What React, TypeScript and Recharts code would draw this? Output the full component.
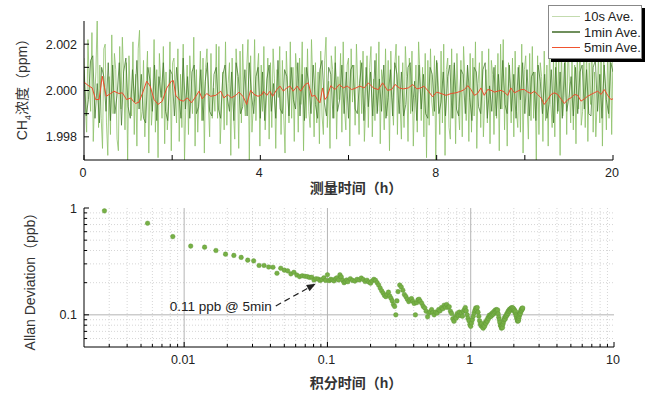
import React from "react";
import {
  LineChart,
  Line,
  ScatterChart,
  Scatter,
  XAxis,
  YAxis,
  ReferenceLine,
} from "recharts";

const FONT = '"Liberation Sans", Arial, sans-serif';
const CJK = '"Liberation Sans", "Noto Sans CJK SC", sans-serif';
const INK = "#222";

// ---- top panel: CH4 time series ----
const hourTicks = [0, 3.333, 6.667, 10, 13.333, 16.667, 20];
const hourTickLabels = ["0", "", "4", "", "8", "", "20"];
const ppmTicks = [1.998, 1.999, 2.0, 2.001, 2.002];
const ppmTickLabels = ["1.998", "", "2.000", "", "2.002"];

const STEP_10S = 0.05; // h between plotted 10s-average samples
const ch4_10s = [
  2.0014, 1.9994, 1.9982, 2.0022, 2.0003, 1.9991, 2.0025, 1.9978, 1.9996, 2.0008, 2.0032, 1.9984, 2.0011, 1.9988, 1.9975, 2.0018, 2.002, 1.9986, 1.9972, 2.0006,
  1.9981, 2.0024, 1.999, 2.0016, 2.0009, 1.9979, 1.9974, 2.0019, 1.9992, 2.0023, 2.0005, 1.9983, 2.0012, 1.997, 2.0015, 1.9997, 1.9989, 2.0021, 1.9981, 2.0007,
  1.9976, 2.0018, 2.0026, 1.9987, 1.9991, 2.0013, 1.998, 2.0002, 2.0017, 1.9973, 2.001, 1.9985, 1.9995, 2.0022, 1.9982, 2.0009, 1.9971, 2.0016, 2.0004, 1.9988,
  2.0019, 1.9977, 2.0008, 1.9983, 1.9993, 2.0021, 1.9974, 2.0012, 2.0014, 1.9997, 1.9986, 2.0018, 1.9978, 2.0007, 1.9984, 2.002, 1.997, 1.9994, 2.0011, 1.9981,
  2.0015, 2.0004, 1.999, 2.0023, 1.9976, 2.0009, 1.9982, 1.9998, 2.0017, 1.9987, 2.0014, 1.9973, 2.001, 2.0018, 1.9995, 1.998, 2.0016, 1.9988, 2.0001, 1.9991,
  2.002, 1.9988, 2.0019, 1.9977, 1.9992, 2.0008, 1.9983, 2.0021, 1.9985, 2.0003, 2.0012, 1.9972, 2.0014, 1.9991, 1.9979, 2.0018, 2.0006, 1.9975, 2.0017, 1.9986,
  2.002, 1.9996, 1.9989, 2.0009, 2.0022, 1.997, 2.0015, 1.9982, 1.9993, 2.0022, 1.9987, 2.0008, 2.0016, 1.9976, 2.0011, 1.9991, 2.0019, 1.9983, 1.9998, 2.0014,
  1.9979, 2.0012, 1.9984, 2.0018, 2.0005, 1.9975, 2.0009, 1.9997, 2.0019, 1.9981, 2.0013, 1.999, 1.9973, 2.0017, 2.0002, 1.9986, 2.0021, 1.9988, 2.001, 1.9978,
  2.0016, 2.0007, 1.9982, 2.0014, 1.9994, 2.0021, 1.9974, 2.001, 1.9988, 2.0018, 1.9991, 1.9984, 2.0022, 2.0003, 1.998, 2.0012, 1.9986, 2.0008, 1.9977, 2.0017,
  1.9989, 1.9981, 2.0013, 2.0023, 1.9984, 2.0004, 1.9975, 2.0015, 2.0009, 1.9988, 2.0019, 1.9979, 2.0006, 1.9996, 2.0016, 1.9982, 2.0021, 1.9992, 1.9983, 2.0011,
  2.0014, 1.9976, 2.0018, 1.9995, 2.0011, 1.9985, 2.002, 2.0002, 1.9981, 2.0013, 1.999, 2.0017, 1.9978, 1.9993, 2.0015, 1.9984, 2.001, 2.0019, 1.998, 2.0005,
  1.9987, 2.0016, 1.9991, 2.0021, 1.9977, 2.0009, 2.0004, 1.9983, 2.0018, 1.9989, 2.0013, 1.9974, 2.0017, 1.9997, 1.9985, 2.0011, 2.002, 1.9981, 2.0015, 1.9994,
  1.9979, 2.0012, 1.9984, 2.0019, 2.0006, 1.9978, 2.0014, 1.999, 2.0017, 1.9976, 1.9997, 2.0011, 1.9982, 2.0021, 2.0008, 1.9987, 2.001, 1.998, 2.0016, 1.9971,
  2.0013, 1.9985, 2.0018, 1.9995, 1.9989, 2.0015, 1.997, 2.0012, 2.0002, 1.9981, 2.0017, 1.9986, 2.002, 1.9972, 2.0009, 2.0014, 1.9984, 1.9979, 2.0018, 1.9988,
  2.0011, 1.9977, 2.0016, 1.9993, 1.9983, 2.0013, 1.998, 2.0019, 2.0005, 1.9987, 2.001, 1.9978, 2.0016, 1.9982, 2.0014, 1.9989, 2.0021, 1.9975, 2.0003, 2.0012,
  1.9984, 2.0017, 1.998, 1.9996, 2.0009, 1.9986, 2.0018, 1.9977, 2.0013, 2.0007, 1.9981, 2.0011, 1.9988, 2.0016, 1.9974, 2.002, 1.9992, 2.0022, 1.9983, 2.001,
  1.9976, 2.0012, 2.0003, 1.9986, 2.0014, 1.998, 2.0017, 1.9991, 1.9984, 2.0011, 1.9982, 2.002, 1.9973, 2.0009, 2.0015, 1.9995, 1.9979, 2.0016, 1.9987, 2.0019,
  1.9988, 2.0008, 1.997, 2.0015, 1.9981, 2.0012, 2.0006, 1.9978, 2.0017, 1.9987, 2.0011, 1.9976, 2.0021, 1.9994, 1.9984, 2.0014, 1.998, 2.0019, 1.999, 2.0013,
  1.9972, 2.0018, 1.9989, 1.9997, 2.0016, 1.9981, 2.0022, 2.0004, 1.9986, 2.0013, 1.9983, 2.0011, 1.9977, 2.0017, 1.9992, 2.002, 1.9985, 1.9991, 2.0014, 1.9984,
  2.0019, 1.9978, 2.0012, 1.9994, 2.0023, 1.9982, 2.0008, 1.998, 1.9995, 2.0016, 1.9986, 2.0021, 1.9976, 2.0013, 2.0003, 1.9983, 2.0018, 1.9988, 2.0022, 1.9981,
  2.0017,
];

const STEP_1MIN = 1 / 12; // h between plotted 1min-average samples
const ch4_1min = [
  2.0009, 1.9989, 1.9996, 2.0013, 2.0015, 1.9988, 2.0003, 1.9986, 2.001, 2.0006, 1.9991, 2.0012,
  1.9987, 2.0011, 1.999, 1.9998, 2.0012, 1.9985, 2.0008, 2.0014, 1.9993, 1.9988, 2.0009, 1.9995,
  2.0013, 1.9992, 2.0007, 1.9988, 1.9986, 2.001, 2.0004, 1.9991, 2.0011, 1.9987, 2.0006, 1.9997,
  2.0012, 1.9991, 1.9987, 2.0009, 2.0007, 1.9989, 2.001, 1.9998, 1.9988, 2.0014, 1.9992, 2.0006,
  1.9988, 2.0008, 2.0011, 1.999, 1.9993, 2.0009, 1.9987, 2.0004, 2.0012, 1.9991, 1.9989, 2.0007,
  2.001, 1.9992, 1.9988, 2.0007, 2.0011, 1.9997, 1.9991, 2.0008, 1.9987, 2.0012, 2.0006, 1.999,
  1.9993, 2.0009, 1.9989, 2.0012, 1.9998, 1.999, 2.0006, 2.001, 1.9988, 2.0008, 1.9987, 2.0005,
  2.0011, 1.9991, 2.0003, 1.9988, 2.0013, 1.9992, 1.999, 2.0009, 2.0006, 1.9989, 2.001, 1.9996,
  1.9992, 2.0012, 1.9989, 2.0007, 1.9987, 2.001, 2.0002, 1.999, 2.0011, 1.9994, 1.9988, 2.0009,
  2.0013, 1.9995, 1.9989, 2.001, 2.0007, 1.9988, 2.0012, 1.9991, 1.9996, 2.0011, 1.999, 2.0008,
  1.9988, 2.0009, 2.0011, 1.9992, 1.999, 2.0003, 2.0012, 1.9987, 2.001, 1.9993, 2.0008, 1.9989,
  2.0013, 1.999, 2.0005, 1.9991, 2.0011, 1.9988, 1.9997, 2.0009, 1.9989, 2.0012, 2.0007, 1.999,
  2.0008, 1.9989, 1.9994, 2.001, 2.0012, 1.9991, 2.0004, 1.9987, 2.0011, 1.9992, 2.0007, 1.999,
  1.9988, 2.001, 2.0007, 1.9991, 2.0013, 1.999, 1.9995, 2.0008, 1.9989, 2.0006, 2.0011, 1.9988,
  2.0012, 1.9992, 1.9989, 2.0009, 2.0007, 1.999, 2.0011, 1.9997, 1.9987, 2.001, 2.0008, 1.9993,
  1.999, 2.0009, 2.0012, 1.9988, 2.0002, 1.9991, 2.001, 1.9989, 2.0007, 1.9992, 2.0013, 1.9994,
  1.999, 2.0011, 1.9991, 2.0007, 1.9988, 2.001, 1.9996, 2.0012, 1.999, 2.0009, 1.9989, 2.0006,
  2.0008, 1.9987, 2.0011, 2.0004, 1.999, 2.0007, 1.9988, 1.9994, 2.0009, 1.9986, 2.001, 1.9991,
  2.0008, 1.9988, 2.0012, 1.9991, 1.9997, 2.0006, 1.9989, 2.001, 1.999, 2.0008, 2.0011, 1.9992,
  2.0009, 1.999, 1.9989, 2.001, 2.0013, 1.9991, 2.0007, 1.9988, 2.0011, 1.9996, 1.999, 2.0012,
  2.0008,
];

const t5min = [
  0, 0.19, 0.31, 0.44, 0.57, 0.69, 0.84, 1.01, 1.13, 1.32, 1.45, 1.61, 1.77, 1.86, 1.95, 2.08, 2.24, 2.37, 2.5, 2.65,
  2.8, 2.96, 3.13, 3.3, 3.38, 3.47, 3.59, 3.75, 3.91, 4.06, 4.19, 4.35, 4.47, 4.64, 4.79, 4.98, 5.17, 5.29, 5.44, 5.57,
  5.74, 5.86, 6.02, 6.15, 6.3, 6.43, 6.58, 6.74, 6.78, 6.91, 7.03, 7.13, 7.29, 7.41, 7.54, 7.66, 7.79, 7.91, 8.06, 8.19,
  8.36, 8.48, 8.61, 8.73, 8.82, 8.92, 9.02, 9.11, 9.2, 9.33, 9.49, 9.65, 9.8, 9.95, 10.12, 10.28, 10.43, 10.59, 10.75, 10.94,
  11.13, 11.29, 11.47, 11.63, 11.76, 11.92, 12.07, 12.26, 12.43, 12.58, 12.73, 12.85, 13.02, 13.18, 13.33, 13.5, 13.69, 13.88, 14.06, 14.25,
  14.38, 14.51, 14.63, 14.76, 14.88, 15.01, 15.13, 15.26, 15.39, 15.51, 15.64, 15.77, 15.89, 16.02, 16.14, 16.27, 16.4, 16.52, 16.65, 16.78,
  16.9, 17.03, 17.15, 17.28, 17.4, 17.53, 17.66, 17.78, 17.91, 18.03, 18.16, 18.29, 18.41, 18.54, 18.67, 18.79, 18.92, 19.04, 19.17, 19.29,
  19.42, 19.55, 19.67, 19.8, 19.92, 20,
];
const ch4_5min = [
  2.00036, 2.00019, 2.00011, 1.99961, 1.99961, 2.00062, 1.99975, 1.99987, 1.99997, 1.99987, 1.9999, 1.99961, 1.99968, 1.99954, 1.99944, 1.9995, 1.99997, 2.0004, 2.00019, 1.99961,
  1.9994, 1.99954, 2.00011, 2.0004, 2.00043, 1.99979, 1.99961, 1.99954, 1.99968, 1.99947, 1.99968, 1.99997, 1.99964, 1.99987, 1.99975, 1.99979, 1.99997, 1.99968, 1.99983, 1.99968,
  1.99979, 1.99993, 1.99973, 1.9994, 2.00001, 1.99983, 1.99975, 1.99983, 1.99997, 1.99979, 1.99997, 1.99975, 2.00004, 2.00019, 1.99997, 2.00011, 2.00019, 1.99997, 2.00019, 1.99997,
  2.00026, 2.00033, 1.99975, 1.99979, 1.99961, 1.99947, 2.00011, 1.99961, 1.99975, 2.00021, 2.00004, 2.00026, 2.00011, 2.00019, 2.00004, 2.00011, 2.00019, 2.00011, 2.00033, 2.00011,
  2.00004, 2.00033, 2.00001, 2.00004, 2.00026, 2.00011, 2.00007, 2.00011, 2.00026, 2.00007, 2.00011, 2.00019, 1.99997, 1.99973, 1.99993, 1.99987, 1.99979, 1.99987, 1.9999, 1.99997,
  2.00004, 2.00021, 2.00004, 1.99979, 1.99987, 2.00011, 1.99979, 2.00004, 2.00001, 1.99993, 1.99997, 2.00001, 1.99993, 1.99979, 2.00011, 1.9999, 1.99997, 2.00004, 2.00004, 1.99993,
  1.99987, 1.99997, 1.99983, 1.99968, 1.9994, 1.99961, 1.99983, 1.9999, 1.99983, 1.99964, 1.99944, 1.99961, 1.99968, 1.99983, 1.99979, 1.99954, 1.99964, 1.99975, 1.99983, 1.9999,
  1.99997, 1.99983, 2.00004, 1.99979, 1.99961, 1.99964,
];

const rows10s = ch4_10s.map((v, i) => ({ t: i * STEP_10S, v }));
const rows1min = ch4_1min.map((v, i) => ({ t: i * STEP_1MIN, v }));
const rows5min = t5min.map((t, i) => ({ t, v: ch4_5min[i] }));

// ---- bottom panel: Allan deviation (tau in s, sigma in ppb) ----
const tauSec = [
  10, 20, 30, 40, 50, 60, 70, 80, 90, 100, 110, 120, 130, 140, 150, 160, 170, 180, 190, 200,
  210, 220, 230, 240, 250, 260, 270, 280, 290, 300, 310, 320, 330, 340, 350, 360, 370, 380, 390, 400,
  410, 420, 430, 440, 450, 460, 470, 480, 490, 500, 520, 540, 560, 580, 600, 620, 640, 660, 680, 700,
  720, 740, 760, 780, 800, 820, 840, 860, 880, 900, 920, 940, 960, 980, 1000, 1020, 1040, 1060, 1080, 1100,
  1120, 1150, 1180, 1210, 1240, 1270, 1300, 1330, 1360, 1390, 1420, 1450, 1480, 1510, 1540, 1570, 1600, 1640, 1680, 1720,
  1760, 1800, 1840, 1880, 1920, 1960,
  2000, 2050, 2100, 2150, 2200, 2250, 2300, 2350, 2400, 2450, 2500, 2550, 2600, 2650, 2700, 2750, 2800, 2850, 2900, 2950,
  3000, 3050, 3100, 3150, 3200, 3250, 3300, 3350, 3400, 3450, 3500, 3550, 3600, 3650, 3700, 3750, 3800, 3850, 3900, 3950,
  4000, 4050, 4100, 4150, 4200, 4250, 4300, 4350, 4400, 4450, 4500, 4550, 4600, 4650, 4700, 4750, 4800, 4850, 4900, 4950,
  5000, 5050, 5100, 5150, 5200, 5250, 5300, 5350, 5400, 5450, 5500, 5550, 5600, 5650, 5700, 5750, 5800, 5850, 5900, 5950,
  6000, 6050, 6100, 6150, 6200, 6250, 6300, 6350, 6400, 6450, 6500, 6550, 6600, 6650, 6700, 6750, 6800, 6850, 6900, 6950,
  7000, 7050, 7100, 7150, 7200, 7250, 7300, 7350, 7400, 7450, 7500, 7550, 7600, 7650, 7700, 7750, 7800, 7850, 7900, 7950,
  8000, 8050, 8100, 8150, 8200, 8250, 8300,
];
const adevPpb = [
  0.94, 0.72, 0.54, 0.44, 0.43, 0.4, 0.37, 0.36, 0.345, 0.325, 0.32, 0.29, 0.29, 0.28, 0.279, 0.245, 0.273, 0.262, 0.258, 0.242,
  0.25, 0.236, 0.228, 0.232, 0.23, 0.228, 0.224, 0.225, 0.212, 0.218, 0.216, 0.21, 0.214, 0.222, 0.21, 0.237, 0.209, 0.215, 0.212, 0.208,
  0.218, 0.222, 0.212, 0.237, 0.226, 0.21, 0.2, 0.205, 0.212, 0.204, 0.218, 0.21, 0.207, 0.215, 0.212, 0.221, 0.214, 0.205, 0.211, 0.203,
  0.198, 0.208, 0.215, 0.21, 0.2, 0.19, 0.178, 0.168, 0.16, 0.152, 0.148, 0.155, 0.163, 0.15, 0.143, 0.135, 0.125, 0.12, 0.1, 0.135,
  0.165, 0.19, 0.182, 0.17, 0.155, 0.148, 0.14, 0.133, 0.138, 0.142, 0.134, 0.128, 0.1, 0.13, 0.138, 0.14, 0.134, 0.128, 0.12, 0.116,
  0.108, 0.096, 0.104, 0.107, 0.112, 0.105,
  0.1, 0.106, 0.104, 0.112, 0.109, 0.117, 0.114, 0.123, 0.118, 0.125, 0.117, 0.119, 0.108, 0.103, 0.092, 0.087, 0.096, 0.093, 0.103, 0.098,
  0.106, 0.099, 0.104, 0.097, 0.108, 0.112, 0.117, 0.109, 0.1, 0.093, 0.088, 0.081, 0.078, 0.084, 0.09, 0.097, 0.104, 0.11, 0.116, 0.112,
  0.117, 0.106, 0.097, 0.088, 0.082, 0.079, 0.083, 0.077, 0.075, 0.08, 0.078, 0.085, 0.083, 0.089, 0.087, 0.094, 0.092, 0.099, 0.096, 0.1,
  0.097, 0.103, 0.1, 0.105, 0.102, 0.108, 0.105, 0.111, 0.107, 0.112, 0.109, 0.111, 0.102, 0.095, 0.09, 0.085, 0.08, 0.078, 0.075, 0.079,
  0.076, 0.082, 0.086, 0.09, 0.094, 0.091, 0.097, 0.096, 0.101, 0.099, 0.105, 0.103, 0.109, 0.107, 0.112, 0.109, 0.114, 0.112, 0.116, 0.113,
  0.117, 0.114, 0.116, 0.111, 0.113, 0.108, 0.11, 0.104, 0.107, 0.1, 0.097, 0.093, 0.09, 0.087, 0.089, 0.088, 0.093, 0.097, 0.101, 0.105,
  0.103, 0.108, 0.112, 0.11, 0.115, 0.113, 0.116,
];
const adevRows = tauSec.map((s, i) => ({ tau: s / 3600, adev: adevPpb[i] }));

const tauMajor = [0.01, 0.1, 1, 10];
const tauMinor = [
  0.003, 0.004, 0.005, 0.006, 0.007, 0.008, 0.009,
  0.02, 0.03, 0.04, 0.05, 0.06, 0.07, 0.08, 0.09,
  0.2, 0.3, 0.4, 0.5, 0.6, 0.7, 0.8, 0.9,
  2, 3, 4, 5, 6, 7, 8, 9,
];
const adevMajor = [0.1, 1];
const adevMinor = [0.06, 0.07, 0.08, 0.09, 0.2, 0.3, 0.4, 0.5, 0.6, 0.7, 0.8, 0.9];
const tauTicks = [...tauMinor, ...tauMajor].sort((a, b) => a - b);
const adevTicks = [...adevMinor, ...adevMajor].sort((a, b) => a - b);

// annotation: tail (tau h, ppb) -> head
const arrowFrom = { x: 0.0436, y: 0.121 };
const arrowTo = { x: 0.0828, y: 0.195 };
const arrowText = "0.11 ppb @ 5min";

// MATLAB-style inward tick with optional label
function boxTick(side: string, label: (v: number) => string, len: (v: number) => number) {
  return (props: any) => {
    const { x, y, payload } = props;
    const v = payload.value;
    const L = len(v);
    const txt = label(v);
    const ts = { fontFamily: FONT, fontSize: 12.5, fill: INK };
    if (side === "bottom")
      return (
        <g>
          <line x1={x} y1={y} x2={x} y2={y - L} stroke="#000" />
          {txt && (
            <text x={x - 1} y={y + 17} textAnchor="middle" style={ts}>
              {txt}
            </text>
          )}
        </g>
      );
    if (side === "top") return <line x1={x} y1={y} x2={x} y2={y + L} stroke="#000" />;
    if (side === "left")
      return (
        <g>
          <line x1={x} y1={y} x2={x + L} y2={y} stroke="#000" />
          {txt && (
            <text x={x - 7} y={y + 4.5} textAnchor="end" style={ts}>
              {txt}
            </text>
          )}
        </g>
      );
    return <line x1={x} y1={y} x2={x - L} y2={y} stroke="#000" />;
  };
}

const hourLabel = (v: number) => hourTickLabels[hourTicks.indexOf(v)] ?? "";
const ppmLabel = (v: number) => ppmTickLabels[ppmTicks.indexOf(v)] ?? "";
const noLabel = () => "";
const tauLabel = (v: number) => (tauMajor.includes(v) ? String(v) : "");
const adevLabel = (v: number) => (adevMajor.includes(v) ? String(v) : "");
const len5 = () => 5;
const tauLen = (v: number) => (tauMajor.includes(v) ? 5 : 3);
const adevLen = (v: number) => (adevMajor.includes(v) ? 5 : 3);

function ArrowShape(p: any) {
  const { x1, y1, x2, y2 } = p;
  const dx = x2 - x1;
  const dy = y2 - y1;
  const d = Math.sqrt(dx * dx + dy * dy);
  const ux = dx / d;
  const uy = dy / d;
  const head = 9;
  const bx = x2 - ux * head;
  const by = y2 - uy * head;
  const w = 3.6;
  return (
    <g>
      <line x1={x1} y1={y1} x2={bx} y2={by} stroke={INK} strokeWidth={1.2} strokeDasharray="6 4" />
      <polygon
        points={`${x2},${y2} ${bx - uy * w},${by + ux * w} ${bx + uy * w},${by - ux * w}`}
        fill={INK}
      />
      <text x={x1 - 4} y={y1 + 5} textAnchor="end" style={{ fontFamily: FONT, fontSize: 13.5, fill: INK }}>
        {arrowText}
      </text>
    </g>
  );
}

const legendItems = [
  { name: "10s Ave.", color: "#c3dbae" },
  { name: "1min Ave.", color: "#6f8f5c" },
  { name: "5min Ave.", color: "#f0532f" },
];

function Legend() {
  return (
    <div
      style={{
        position: "absolute",
        left: 548,
        top: 5,
        width: 92,
        height: 52,
        background: "#fff",
        border: "1px solid #888",
        boxShadow: "3px 3px 0 #000",
        fontFamily: FONT,
        fontSize: 13,
        color: INK,
      }}
    >
      {legendItems.map((it, i) => (
        <div key={it.name} style={{ position: "absolute", left: 3, top: 3 + i * 15.5, height: 15, display: "flex", alignItems: "center" }}>
          <div style={{ width: 28, height: 1.2, background: it.color }} />
          <span style={{ marginLeft: 4, whiteSpace: "nowrap" }}>{it.name}</span>
        </div>
      ))}
    </div>
  );
}

const vLabel = (cx: number, cy: number): React.CSSProperties => ({
  position: "absolute",
  left: cx,
  top: cy,
  transform: "translate(-50%, -50%) rotate(-90deg)",
  whiteSpace: "nowrap",
  fontFamily: CJK,
  fontSize: 14,
  color: "#333",
});
const hLabel = (cx: number, cy: number): React.CSSProperties => ({
  position: "absolute",
  left: cx,
  top: cy,
  transform: "translate(-50%, -50%)",
  whiteSpace: "nowrap",
  fontFamily: CJK,
  fontSize: 14,
  fontWeight: 700,
  color: "#333",
});

export default function App() {
  return (
    <div style={{ position: "absolute", left: 0, top: 0, width: 650, height: 394, background: "#fff" }}>
      <div style={{ position: "absolute", left: 0, top: 0 }}>
        <LineChart width={650} height={190} margin={{ top: 21, right: 37, bottom: 0, left: 0 }}>
          <XAxis
            xAxisId="b"
            type="number"
            dataKey="t"
            domain={[0, 20]}
            ticks={hourTicks}
            interval={0}
            height={30}
            tickSize={0}
            tickMargin={0}
            axisLine={{ stroke: "#000" }}
            tick={boxTick("bottom", hourLabel, len5)}
            allowDataOverflow
          />
          <XAxis
            xAxisId="t"
            orientation="top"
            type="number"
            dataKey="t"
            domain={[0, 20]}
            ticks={hourTicks}
            interval={0}
            height={0}
            tickSize={0}
            tickMargin={0}
            axisLine={{ stroke: "#000" }}
            tick={boxTick("top", noLabel, len5)}
            allowDataOverflow
          />
          <YAxis
            yAxisId="l"
            type="number"
            domain={[1.997, 2.003]}
            ticks={ppmTicks}
            interval={0}
            width={84}
            tickSize={0}
            tickMargin={0}
            axisLine={{ stroke: "#000" }}
            tick={boxTick("left", ppmLabel, len5)}
            allowDataOverflow
          />
          <YAxis
            yAxisId="r"
            orientation="right"
            type="number"
            domain={[1.997, 2.003]}
            ticks={ppmTicks}
            interval={0}
            width={0}
            tickSize={0}
            tickMargin={0}
            axisLine={{ stroke: "#000" }}
            tick={boxTick("right", noLabel, len5)}
            allowDataOverflow
          />
          <Line
            xAxisId="b"
            yAxisId="l"
            data={rows10s}
            dataKey="v"
            type="linear"
            stroke="#8cc068"
            strokeOpacity={0.8}
            strokeWidth={1}
            dot={false}
            isAnimationActive={false}
          />
          <Line
            xAxisId="b"
            yAxisId="l"
            data={rows1min}
            dataKey="v"
            type="linear"
            stroke="#437a2a"
            strokeOpacity={0.75}
            strokeWidth={1}
            dot={false}
            isAnimationActive={false}
          />
          <Line
            xAxisId="b"
            yAxisId="l"
            data={rows5min}
            dataKey="v"
            type="linear"
            stroke="#ee4b2b"
            strokeWidth={1}
            dot={false}
            isAnimationActive={false}
          />
        </LineChart>
      </div>

      <div style={{ position: "absolute", left: 0, top: 190 }}>
        <ScatterChart width={650} height={187} margin={{ top: 18, right: 36, bottom: 0, left: 0 }}>
          <XAxis
            type="number"
            dataKey="tau"
            scale="log"
            domain={[0.002, 10]}
            ticks={tauTicks}
            interval={0}
            height={30}
            tickSize={0}
            tickMargin={0}
            axisLine={{ stroke: "#000" }}
            tick={boxTick("bottom", tauLabel, tauLen)}
            allowDataOverflow
          />
          <XAxis
            xAxisId="top"
            orientation="top"
            type="number"
            dataKey="tau"
            scale="log"
            domain={[0.002, 10]}
            ticks={tauTicks}
            interval={0}
            height={0}
            tickSize={0}
            tickMargin={0}
            axisLine={{ stroke: "#000" }}
            tick={boxTick("top", noLabel, tauLen)}
            allowDataOverflow
          />
          <YAxis
            type="number"
            dataKey="adev"
            scale="log"
            domain={[0.05, 1]}
            ticks={adevTicks}
            interval={0}
            width={84}
            tickSize={0}
            tickMargin={0}
            axisLine={{ stroke: "#000" }}
            tick={boxTick("left", adevLabel, adevLen)}
            allowDataOverflow
          />
          <YAxis
            yAxisId="right"
            orientation="right"
            type="number"
            dataKey="adev"
            scale="log"
            domain={[0.05, 1]}
            ticks={adevTicks}
            interval={0}
            width={0}
            tickSize={0}
            tickMargin={0}
            axisLine={{ stroke: "#000" }}
            tick={boxTick("right", noLabel, adevLen)}
            allowDataOverflow
          />
          {tauMinor.map((v) => (
            <ReferenceLine key={"tx" + v} x={v} stroke="#d6d6d6" strokeDasharray="1 2" />
          ))}
          {adevMinor.map((v) => (
            <ReferenceLine key={"ay" + v} y={v} stroke="#d6d6d6" strokeDasharray="1 2" />
          ))}
          {tauMajor.slice(0, 3).map((v) => (
            <ReferenceLine key={"TX" + v} x={v} stroke="#b4b4b4" />
          ))}
          {adevMajor.slice(0, 1).map((v) => (
            <ReferenceLine key={"AY" + v} y={v} stroke="#b4b4b4" />
          ))}
          <Scatter
            data={adevRows}
            fill="#77b046"
            isAnimationActive={false}
            shape={(p: any) => <circle cx={p.cx} cy={p.cy} r={2.3} fill="#77b046" stroke="#5e9636" strokeWidth={0.4} />}
          />
          <ReferenceLine segment={[arrowFrom, arrowTo]} ifOverflow="visible" shape={(p: any) => <ArrowShape {...p} />} />
        </ScatterChart>
      </div>

      <Legend />

      <div style={vLabel(22, 86)}>
        CH<sub style={{ fontSize: 9 }}>4</sub>浓度（ppm）
      </div>
      <div style={hLabel(356, 187)}>测量时间（h）</div>
      <div style={vLabel(29, 278)}>Allan Deviation（ppb）</div>
      <div style={hLabel(356, 382)}>积分时间（h）</div>
    </div>
  );
}
